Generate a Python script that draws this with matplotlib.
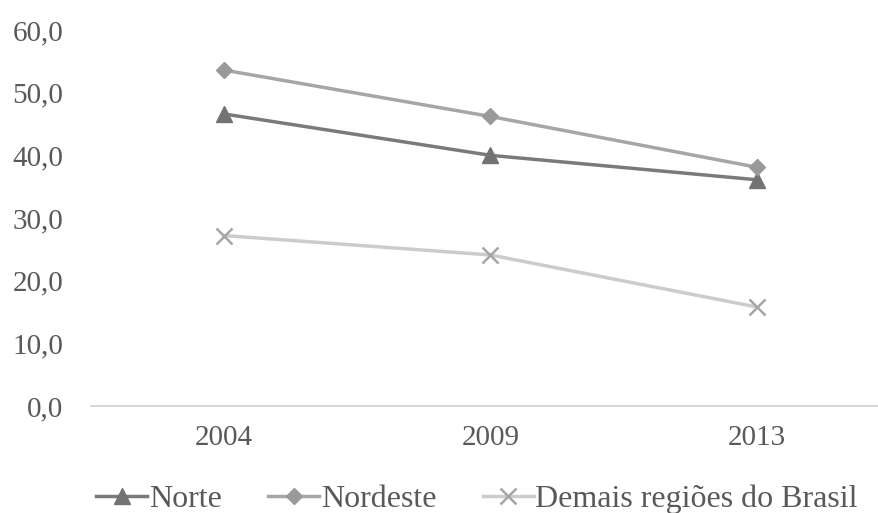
import matplotlib.pyplot as plt

plt.rcParams['font.family'] = ['Liberation Serif', 'DejaVu Serif']

anos = ['2004', '2009', '2013']
norte = [46.6, 40.0, 36.1]
nordeste = [53.6, 46.2, 38.1]
demais = [27.2, 24.1, 15.8]

fig = plt.figure(figsize=(8.79, 5.13), dpi=100)
ax = fig.add_axes([91/879, 107/513, 799/879, 376/513])

x = range(len(anos))
ax.plot(x, norte, color='#7a7a7a', lw=2.5, marker='^', ms=11,
        mfc='#737373', mec='#737373', label='Norte')
ax.plot(x, nordeste, color='#a6a6a6', lw=2.5, marker='D', ms=8,
        mfc='#999999', mec='#999999', label='Nordeste')
ax.plot(x, demais, color='#cccccc', lw=2.5, marker='x', ms=11, mew=1.8,
        mec='#a6a6a6', label='Demais regiões do Brasil')

ax.set_xlim(-0.5, 2.5)
ax.set_ylim(0, 60)
ax.set_yticks(range(0, 61, 10))
ax.set_yticklabels([f'{v},0' for v in range(0, 61, 10)])
ax.set_xticks(list(x))
ax.set_xticklabels(anos)

for s in ['top', 'right', 'left']:
    ax.spines[s].set_visible(False)
ax.spines['bottom'].set_color('#d0d0d0')
ax.spines['bottom'].set_linewidth(1.2)
ax.tick_params(length=0, labelsize=21, colors='#595959')
ax.tick_params(axis='y', pad=20)
ax.tick_params(axis='x', pad=14)

leg = fig.legend(loc='center', bbox_to_anchor=(477/879, 14/513), ncol=3, frameon=False,
                 fontsize=23, handlelength=1.6, handletextpad=0.05, columnspacing=1.45)
for t in leg.get_texts():
    t.set_color('#595959')

fig.savefig('out.png', dpi=100)
